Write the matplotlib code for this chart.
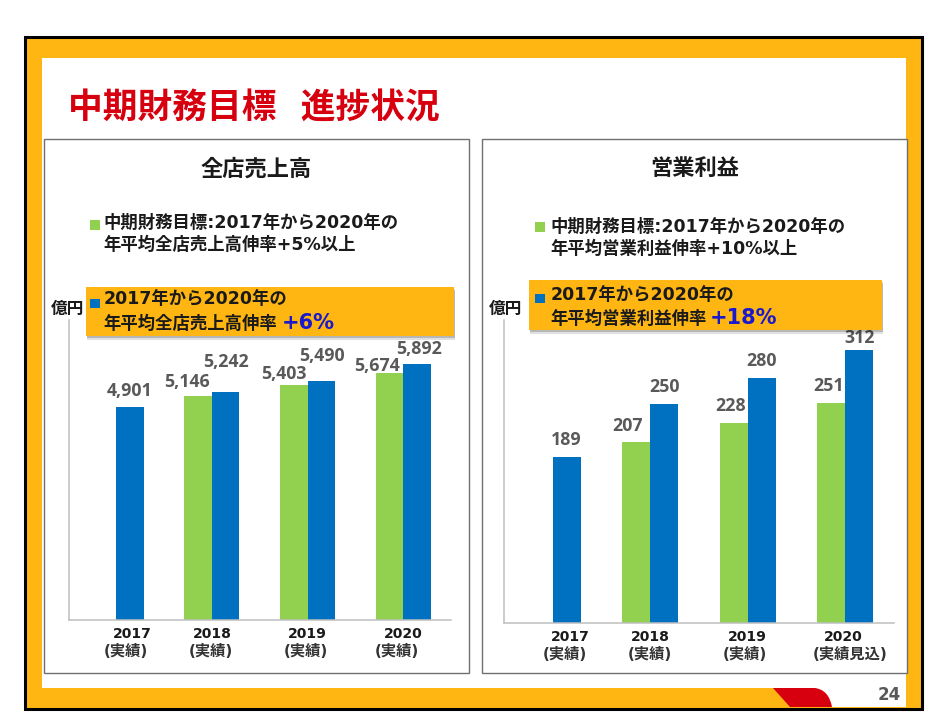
from __future__ import annotations

import matplotlib

matplotlib.use("Agg")
import matplotlib.patheffects as pe
import matplotlib.pyplot as plt
import numpy as np
from matplotlib.patches import PathPatch, Rectangle
from matplotlib.path import Path
from matplotlib.transforms import ScaledTranslation

plt.rcParams["font.family"] = ["DejaVu Sans", "Noto Sans CJK JP"]
plt.rcParams["font.weight"] = "bold"

WIDTH, HEIGHT = 951, 724
GREEN = "#92d050"
BLUE = "#0070c0"
YELLOW = "#ffb612"
RED = "#d7000f"
DARK = "#1a1a1a"
GRAY = "#595959"
PERCENT_BLUE = "#1a1acc"

YEARS = ["2017", "2018", "2019", "2020"]

SALES_TARGET = [np.nan, 5146, 5403, 5674]
SALES_ACTUAL = [4901, 5242, 5490, 5892]
SALES_NOTES = ["(実績)", "(実績)", "(実績)", "(実績)"]

PROFIT_TARGET = [np.nan, 207, 228, 251]
PROFIT_ACTUAL = [189, 250, 280, 312]
PROFIT_NOTES = ["(実績)", "(実績)", "(実績)", "(実績見込)"]

fig = plt.figure(figsize=(WIDTH / 100, HEIGHT / 100), dpi=100)


def fx(x: float) -> float:
    return x / WIDTH


def fy(y: float) -> float:
    return 1 - y / HEIGHT


def add_rect(x0, y0, x1, y1, zorder=1, **kwargs):
    patch = Rectangle(
        (fx(x0), fy(y1)),
        (x1 - x0) / WIDTH,
        (y1 - y0) / HEIGHT,
        transform=fig.transFigure,
        zorder=zorder,
        **kwargs,
    )
    fig.add_artist(patch)
    return patch


def add_text(x, y, text, size, color=DARK, ha="left", zorder=7):
    # va=center sits a little high for these fonts
    fig.text(fx(x), fy(y + 1.5), text, fontsize=size, color=color, ha=ha, va="center", zorder=zorder)


def draw_frame() -> None:
    add_rect(25, 36.5, 922, 708.5, zorder=-5, facecolor=YELLOW, edgecolor="black", linewidth=2.2)
    add_rect(42, 58, 906, 688, zorder=-4, facecolor="white", edgecolor="none")
    add_rect(805, 687, 906, 707, zorder=-4, facecolor="white", edgecolor="none")
    verts = [(773, 688), (815, 688), (829, 690), (832, 707), (790, 707), (773, 688)]
    codes = [Path.MOVETO, Path.LINETO, Path.CURVE3, Path.CURVE3, Path.LINETO, Path.CLOSEPOLY]
    red = Path([(fx(x), fy(y)) for x, y in verts], codes)
    fig.add_artist(PathPatch(red, transform=fig.transFigure, facecolor=RED, edgecolor="none", zorder=-3))
    add_text(67.5, 106.5, "中期財務目標  進捗状況", 25, color=RED)
    add_text(889, 693, "24", 12, color=GRAY, ha="center")


def draw_panel(box, title, title_x, target_lines, target_y, square_dy, goal_box, goal_lines, goal_y, percent, percent_x, unit_x):
    x0, x1 = box
    add_rect(x0, 139, x1, 673, zorder=-2, facecolor="white", edgecolor="#6f6f6f", linewidth=1.0)
    add_text(title_x, 167, title, 16, ha="center")

    text_x = x0 + (60 if x0 < 100 else 68.5)
    square_x = text_x - 14 if x0 < 100 else text_x - 15.5
    add_rect(square_x, target_y + square_dy, square_x + 10, target_y + square_dy + 10, zorder=7, facecolor=GREEN, edgecolor="none")
    add_text(text_x, target_y, target_lines[0], 12.5)
    add_text(text_x, target_y + 22, target_lines[1], 12.5)

    bx0, by0, bx1, by1 = goal_box
    patch = add_rect(bx0, by0, bx1, by1, zorder=5, facecolor=YELLOW, edgecolor="none")
    patch.set_path_effects([
        pe.withSimplePatchShadow(offset=(1, -3), shadow_rgbFace="black", alpha=0.12),
        pe.withSimplePatchShadow(offset=(0.5, -1.5), shadow_rgbFace="black", alpha=0.18),
        pe.Normal(),
    ])
    add_rect(square_x, goal_y + 1, square_x + 10, goal_y + 10, zorder=7, facecolor=BLUE, edgecolor="none")
    add_text(text_x, goal_y, goal_lines[0], 12.5)
    add_text(text_x, goal_y + 24, goal_lines[1], 12.5)
    add_text(percent_x, goal_y + 23, percent, 15, color=PERCENT_BLUE)
    add_text(unit_x, 307, "億円", 12, ha="center")


def draw_bars(box, target, actual, notes, ymax, target_offsets, actual_offsets, year_dx, note_dx):
    x0, y0, x1, y1 = box
    ax = fig.add_axes([fx(x0), fy(y1), (x1 - x0) / WIDTH, (y1 - y0) / HEIGHT], zorder=3)
    ax.patch.set_alpha(0)
    x = np.arange(len(YEARS))
    width = 0.288
    bars_target = ax.bar(x - width / 2, target, width, color=GREEN)
    bars_actual = ax.bar(x + width / 2, actual, width, color=BLUE)

    for bars, values, offsets in (
        (bars_target, target, target_offsets),
        (bars_actual, actual, actual_offsets),
    ):
        for bar, value, offset in zip(bars, values, offsets):
            if np.isnan(value):
                continue
            ax.annotate(
                f"{value:,}",
                (bar.get_x() + bar.get_width() / 2, value),
                xytext=offset,
                textcoords="offset pixels",
                ha="center",
                va="center",
                fontsize=12.8,
                family="Open Sans",
                color=GRAY,
            )

    ax.set_xlim(-0.5, 3.5)
    ax.set_ylim(0, ymax)
    ax.set_yticks([])
    ax.set_xticks(x, YEARS, fontsize=10.1, color=DARK)
    ax.tick_params(axis="x", length=0, pad=5.2)
    for label, dx in zip(ax.get_xticklabels(), year_dx):
        label.set_transform(label.get_transform() + ScaledTranslation(dx / 100, 0, fig.dpi_scale_trans))
    for i, (note, dx) in enumerate(zip(notes, note_dx)):
        ax.annotate(
            note,
            (i, 0),
            xytext=(dx, -32),
            textcoords="offset pixels",
            ha="center",
            va="center",
            fontsize=11,
            color="#333333",
            annotation_clip=False,
        )
    for side in ("top", "right"):
        ax.spines[side].set_visible(False)
    for side in ("left", "bottom"):
        ax.spines[side].set_color("#bfbfbf")
        ax.spines[side].set_linewidth(1.1)


draw_frame()

draw_panel(
    (43.5, 469),
    "全店売上高",
    256,
    ("中期財務目標:2017年から2020年の", "年平均全店売上高伸率+5%以上"),
    221,
    -1,
    (86, 287, 454, 336),
    ("2017年から2020年の", "年平均全店売上高伸率"),
    298,
    "+6%",
    282,
    67,
)
draw_bars(
    (68.5, 320, 451, 620),
    SALES_TARGET,
    SALES_ACTUAL,
    SALES_NOTES,
    6900,
    [(0, 0), (-11.5, 14), (-10, 11), (-12.5, 7)],
    [(0, 16), (0.5, 30), (1, 25), (2, 15)],
    [15.5, 0, 0, 0],
    [9.5, -1, -1.5, -6],
)

draw_panel(
    (482, 907),
    "営業利益",
    695,
    ("中期財務目標:2017年から2020年の", "年平均営業利益伸率+10%以上"),
    225,
    -3,
    (529, 280, 882, 330),
    ("2017年から2020年の", "年平均営業利益伸率"),
    293,
    "+18%",
    710,
    505,
)
draw_bars(
    (503.75, 320, 894, 622.7),
    PROFIT_TARGET,
    PROFIT_ACTUAL,
    PROFIT_NOTES,
    346,
    [(0, 0), (-8, 16), (-3, 17), (-3, 17)],
    [(0, 17), (0, 17), (0, 17), (0, 12)],
    [17.5, 0, 0, -2],
    [12.5, 0, -2.5, 5],
)

fig.savefig("out.png", dpi=100)
